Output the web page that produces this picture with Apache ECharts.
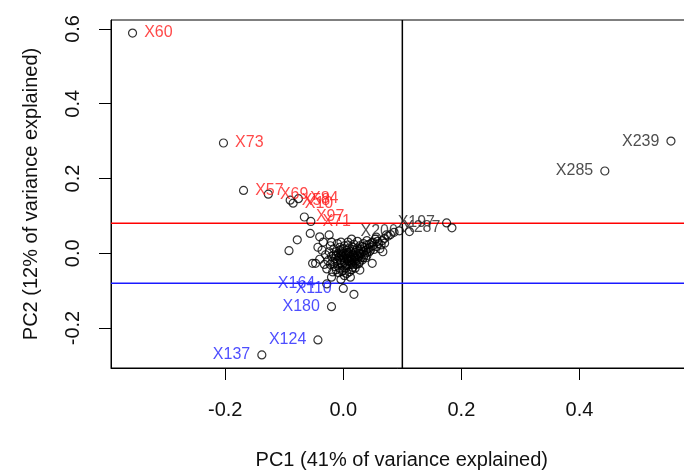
<!DOCTYPE html>
<html>
<head>
<meta charset="utf-8">
<script src="https://cdn.jsdelivr.net/npm/echarts@6/dist/echarts.min.js"></script>
<style>
  html, body { margin: 0; padding: 0; background: #fff; }
  #chart { width: 684px; height: 471px; }
</style>
</head>
<body>
<div id="chart"></div>
<script>
// axis ranges and tick labels
const xRange = [-0.3935, 0.5915];
const yRange = [-0.307, 0.624];
const xTicks = [-0.2, 0.0, 0.2, 0.4];
const yTicks = [-0.2, 0.0, 0.2, 0.4, 0.6];

// thresholds drawn as lines
const pc1Cut = 0.1;
const pc2High = 0.08;
const pc2Low = -0.08;

// labelled points [PC1, PC2, name]
const redPoints = [
  [-0.357, 0.589, 'X60'],
  [-0.203, 0.295, 'X73'],
  [-0.169, 0.168, 'X57'],
  [-0.127, 0.158, 'X69'],
  [-0.090, 0.142, 'X58'],
  [-0.085, 0.134, 'X10'],
  [-0.076, 0.146, 'X84'],
  [-0.066, 0.097, 'X97'],
  [-0.055, 0.085, 'X71']
];
const bluePoints = [
  [-0.028, -0.082, 'X164'],
  [0.000, -0.094, 'X110'],
  [-0.020, -0.143, 'X180'],
  [-0.043, -0.232, 'X124'],
  [-0.138, -0.272, 'X137']
];
const blackPoints = [
  [0.555, 0.300, 'X239'],
  [0.443, 0.220, 'X285'],
  [0.175, 0.081, 'X197'],
  [0.184, 0.068, 'X287'],
  [0.112, 0.058, 'X200']
];

// unlabelled points [PC1, PC2]
const otherPoints = [
  [-0.056, 0.053], [-0.078, 0.036], [-0.092, 0.007], [-0.043, 0.016], [-0.040, 0.044],
  [-0.024, 0.049], [0.014, 0.038], [-0.052, -0.027], [-0.047, -0.027], [0.049, -0.027],
  [0.067, 0.004], [0.070, 0.027], [0.073, 0.049], [0.056, 0.043], [0.018, -0.110],
  [0.028, -0.045], [0.080, 0.050], [0.086, 0.056], [0.095, 0.060],
  [-0.012, -0.005], [-0.008, -0.012], [-0.004, -0.018], [0.000, -0.010], [0.004, -0.004],
  [0.008, -0.014], [0.012, -0.008], [0.016, -0.002], [0.020, -0.010], [0.024, -0.004],
  [0.002, -0.024], [0.006, -0.030], [-0.002, -0.032], [0.010, -0.022], [0.014, -0.016],
  [0.018, -0.020], [0.022, -0.014], [0.026, -0.008], [0.030, -0.002], [0.034, 0.004],
  [0.038, 0.008], [0.042, 0.012], [0.046, 0.016], [0.050, 0.020], [0.030, 0.010],
  [0.036, 0.016], [0.040, 0.022], [0.026, 0.006], [0.020, 0.002], [0.012, 0.004],
  [0.006, 0.008], [-0.002, 0.004], [-0.008, 0.000], [-0.014, -0.014], [-0.018, -0.022],
  [-0.010, -0.028], [-0.006, -0.040], [0.000, -0.046], [0.004, -0.040], [-0.014, -0.036],
  [-0.020, -0.008], [-0.024, 0.004], [-0.016, 0.012], [-0.006, 0.016], [0.002, 0.020],
  [0.010, 0.014], [0.016, 0.010], [0.044, 0.004], [0.052, 0.010], [0.056, 0.018],
  [0.060, 0.026], [0.048, 0.028], [0.034, 0.026], [0.028, 0.020], [0.018, 0.024],
  [-0.026, -0.020], [-0.030, -0.004], [-0.022, 0.020], [-0.010, 0.026], [0.008, 0.030],
  [0.024, 0.032], [0.040, 0.034], [-0.032, -0.030], [-0.028, -0.042], [-0.018, -0.050],
  [0.010, -0.050], [0.016, -0.038], [0.022, -0.030], [0.028, -0.022], [0.034, -0.012],
  [0.040, -0.006], [0.000, 0.000], [0.004, -0.006], [0.010, -0.002], [-0.004, -0.002],
  [0.014, -0.012], [0.018, -0.006], [0.006, -0.016], [0.062, 0.012], [0.066, 0.034],
  [0.054, 0.038], [-0.036, 0.008], [-0.040, -0.016], [-0.034, 0.030],
  [-0.004, -0.070], [0.012, -0.064], [-0.020, -0.064],
  [0.002, -0.014], [0.008, -0.020], [0.014, -0.026], [0.020, -0.024], [-0.006, -0.008],
  [-0.010, -0.020], [-0.004, -0.026], [0.004, -0.034], [0.012, -0.030], [0.018, -0.014],
  [0.024, -0.018], [0.030, -0.012], [0.028, 0.000], [0.022, 0.008], [0.016, 0.016],
  [0.008, 0.022], [0.000, 0.012], [-0.006, 0.008], [-0.012, 0.004], [-0.016, -0.004],
  [0.036, -0.004], [0.040, 0.002], [0.046, 0.008], [0.032, 0.018], [0.024, 0.014],
  [-0.002, -0.048], [0.006, -0.054], [-0.012, -0.044], [0.014, -0.044], [0.020, -0.040],
  [-0.008, -0.052], [0.002, -0.060], [-0.022, -0.030], [-0.016, -0.028], [0.044, 0.024],
  [0.050, 0.030], [0.058, 0.032], [0.064, 0.022], [0.070, 0.040], [0.076, 0.046],
  [0.008, 0.002], [0.012, -0.018], [0.006, -0.002], [-0.002, -0.006], [0.016, -0.030],
  [0.026, -0.028], [0.032, -0.018], [0.038, -0.012], [-0.020, 0.030], [-0.004, 0.030]
];

const font = 'Liberation Sans, Arial, Helvetica, sans-serif';

const circle = {
  symbol: 'circle',
  symbolSize: 8,
  itemStyle: { color: 'transparent', borderColor: '#000', borderWidth: 1.2 }
};

function toData (arr) {
  return arr.map(p => ({ name: p[2], value: [p[0], p[1]] }))
}

function labelled (arr, color, position) {
  return Object.assign({
    type: 'scatter',
    data: toData(arr),
    label: {
      show: true,
      position: position,
      distance: 7,
      formatter: '{b}',
      color: color,
      fontSize: 16,
      fontFamily: font
    }
  }, circle);
}

// straight reference line across the whole plot
function refLine (data, color) {
  return {
    type: 'line',
    data: data,
    showSymbol: false,
    silent: true,
    z: 1,
    itemStyle: { color: color },
    lineStyle: { color: color, width: 1.5 }
  }
}

const chart = echarts.init(document.getElementById('chart'));

const option = {
  animation: false,
  backgroundColor: '#fff',
  grid: {
    left: 111,
    right: -8.5,
    top: 20,
    bottom: 103,
    outerBoundsMode: 'none',
    show: true,
    borderColor: '#000',
    borderWidth: 1,
    backgroundColor: 'transparent'
  },
  xAxis: {
    type: 'value',
    min: xRange[0],
    max: xRange[1],
    name: 'PC1 (41% of variance explained)',
    nameLocation: 'middle',
    nameGap: 82,
    nameTextStyle: { fontSize: 20, color: '#111', fontFamily: font },
    splitLine: { show: false },
    axisLine: { show: true, onZero: false, lineStyle: { color: '#000' } },
    axisTick: { show: true, length: 12, customValues: xTicks, lineStyle: { color: '#000' } },
    axisLabel: {
      customValues: xTicks,
      margin: 32,
      fontSize: 20,
      color: '#111',
      fontFamily: font,
      formatter: v => v.toFixed(1)
    }
  },
  yAxis: {
    type: 'value',
    min: yRange[0],
    max: yRange[1],
    name: 'PC2 (12% of variance explained)',
    nameLocation: 'middle',
    nameRotate: 90,
    nameGap: 70,
    nameTextStyle: { fontSize: 20, color: '#111', fontFamily: font },
    splitLine: { show: false },
    axisLine: { show: true, onZero: false, lineStyle: { color: '#000' } },
    axisTick: { show: true, length: 12, customValues: yTicks, lineStyle: { color: '#000' } },
    axisLabel: {
      customValues: yTicks,
      rotate: 90,
      margin: 28,
      fontSize: 20,
      color: '#111',
      fontFamily: font,
      formatter: v => v.toFixed(1)
    }
  },
  series: [
    refLine([[pc1Cut, yRange[0]], [pc1Cut, yRange[1]]], '#000'),
    refLine([[xRange[0], pc2High], [xRange[1], pc2High]], '#ff0000'),
    refLine([[xRange[0], pc2Low], [xRange[1], pc2Low]], '#1a1aff'),
    Object.assign({ type: 'scatter', data: otherPoints }, circle),
    labelled(redPoints, '#ff1a1a', 'right'),
    labelled(bluePoints, '#2222ff', 'left'),
    labelled(blackPoints, '#222', 'left')
  ]
};

chart.setOption(option);
</script>
</body>
</html>
